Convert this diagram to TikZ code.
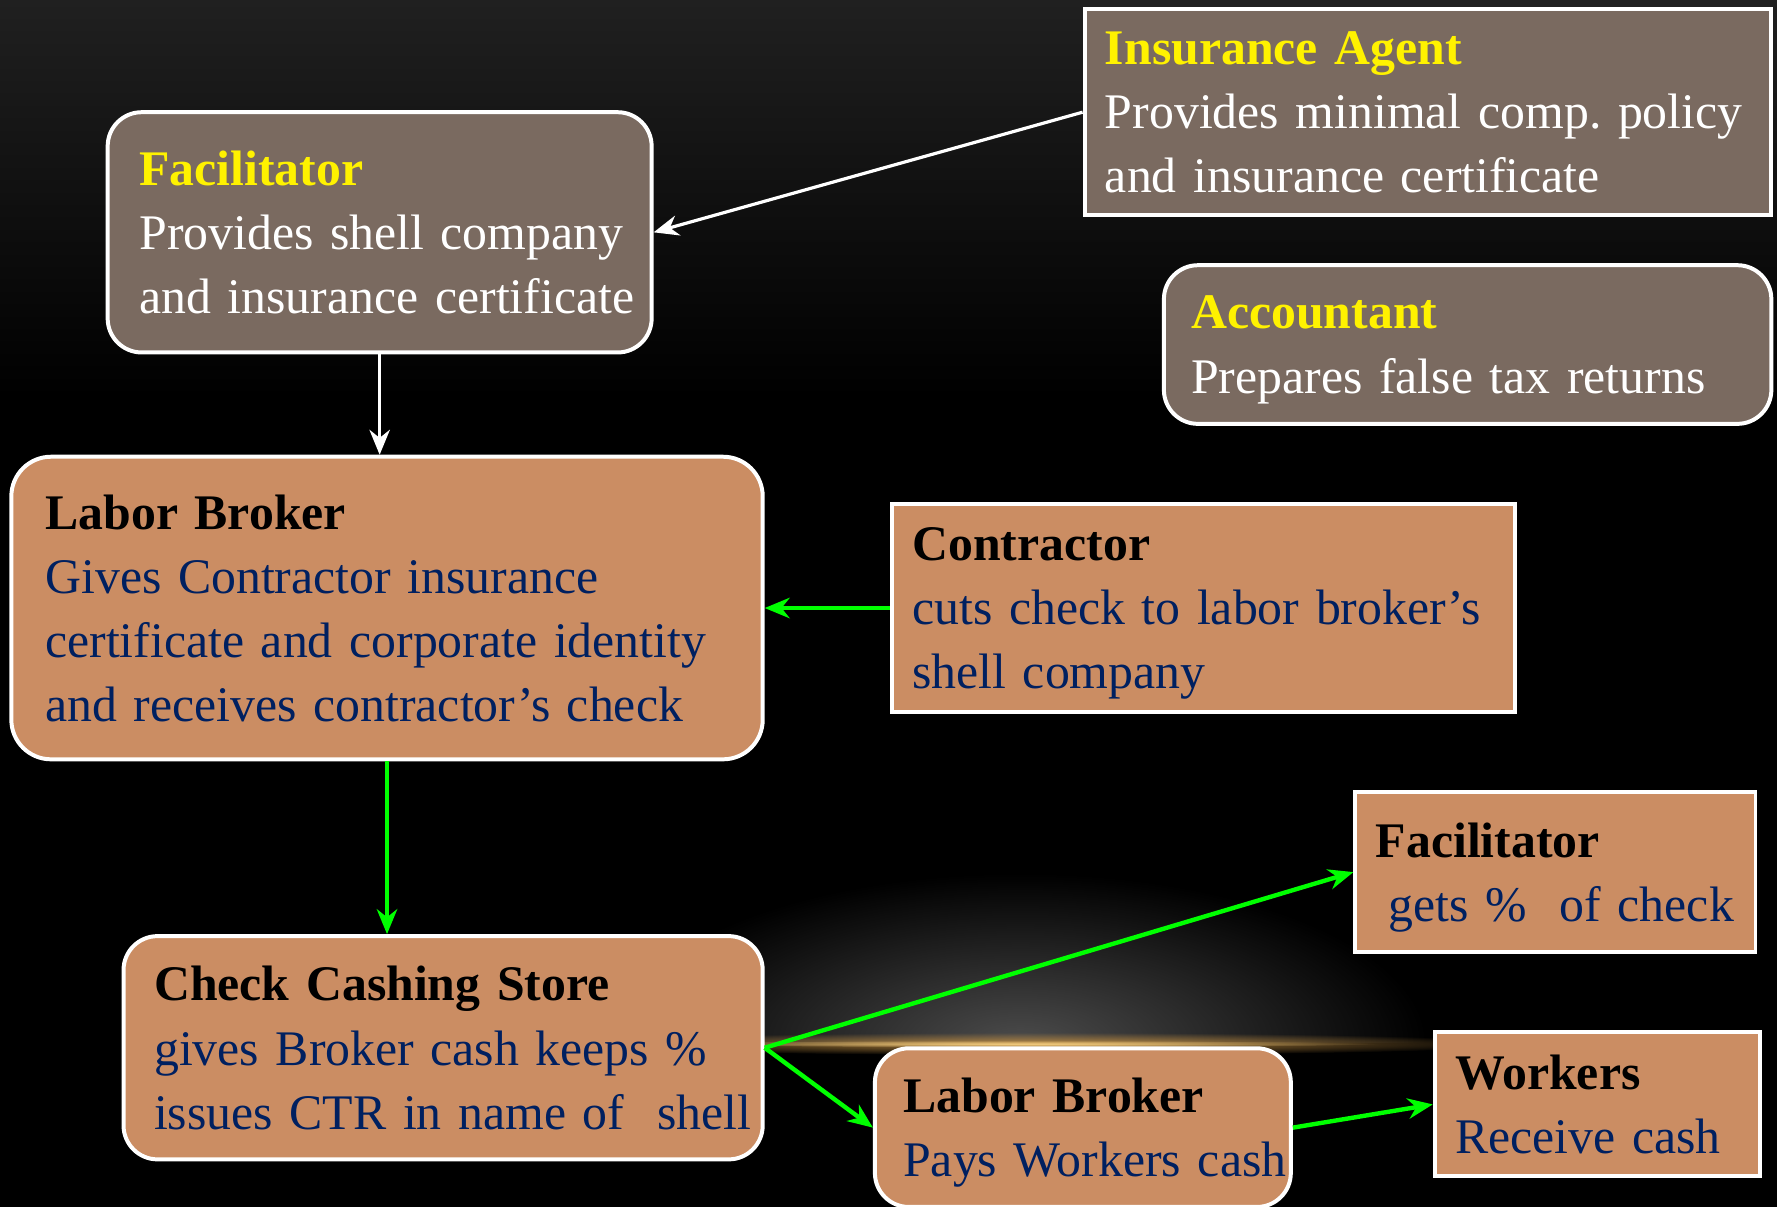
\documentclass[tikz,border=0pt]{standalone}
\usepackage{fontspec}
\setmainfont{Liberation Serif}
\usetikzlibrary{arrows.meta}
\usetikzlibrary{fadings}
\frenchspacing
\hyphenpenalty=10000
\exhyphenpenalty=10000

\definecolor{boxgray}{HTML}{7A6A60}
\definecolor{boxtan}{HTML}{CB8D63}
\definecolor{navy}{HTML}{002060}
\definecolor{bgtop}{HTML}{202020}
\definecolor{glowgray}{HTML}{4C4C4C}
\definecolor{glowgold}{HTML}{B88840}
\definecolor{coregold}{HTML}{F2CC80}

\tikzfading[name=glowfade, inner color=transparent!0, outer color=transparent!100]

\tikzset{
  card/.style={draw=white, line width=1pt, align=left, inner ysep=0pt,
    font=\fontsize{12.5}{16.1}\selectfont},
  graycard/.style={card, fill=boxgray, text=white},
  tancard/.style={card, fill=boxtan, text=navy},
  whitearrow/.style={white, line width=0.8pt, -{Stealth[length=0.22cm,width=0.18cm]}},
  greenarrow/.style={green, line width=1.1pt, -{Stealth[length=0.22cm,width=0.18cm]}},
}
\newcommand{\gtitle}[1]{\textcolor{yellow}{\textbf{#1}}}
\newcommand{\ttitle}[1]{\textcolor{black}{\textbf{#1}}}
\newcommand{\nodepth}[1]{\raisebox{0pt}[\height][0pt]{#1}}

\begin{document}
\begin{tikzpicture}
\useasboundingbox (0,0) rectangle (15.68,-10.65);
\shade[top color=bgtop, bottom color=black] (0,0) rectangle (15.68,-3.5);
\fill[black] (0,-3.5) rectangle (15.68,-10.65);

% glow behind the lower boxes
\begin{scope}
\clip (0,-7) rectangle (15.68,-9.2);
\fill[glowgray, path fading=glowfade] (9.0,-9.2) ellipse (3.6cm and 1.5cm);
\end{scope}
\fill[glowgold, path fading=glowfade] (9.2,-9.21) ellipse (4.2cm and 0.1cm);
\fill[coregold, path fading=glowfade] (9.0,-9.21) ellipse (3.2cm and 0.03cm);

\node[graycard, text width=5.70cm, inner xsep=0.18cm, minimum height=1.82cm] (ia) at (12.60,-0.99)
  {\gtitle{Insurance Agent}\\ Provides minimal comp. policy\\ \nodepth{and insurance certificate}};
\node[graycard, rounded corners=0.3cm, text width=4.24cm, inner xsep=0.28cm, minimum height=2.12cm] (facil) at (3.35,-2.05)
  {\gtitle{Facilitator}\\ Provides~shell~company\\ \nodepth{and insurance certificate}};
\node[graycard, rounded corners=0.3cm, text width=4.88cm, inner xsep=0.24cm, minimum height=1.40cm] (acct) at (12.95,-3.04)
  {\gtitle{Accountant}\\ \nodepth{Prepares false tax returns}};

\node[tancard, rounded corners=0.35cm, text width=6.03cm, inner xsep=0.30cm, minimum height=2.67cm] (lb) at (3.415,-5.365)
  {\ttitle{Labor Broker}\\ Gives Contractor insurance\\ certificate and corporate identity\\ \nodepth{and receives contractor’s check}};
\node[tancard, text width=5.14cm, inner xsep=0.18cm, minimum height=1.83cm] (contr) at (10.62,-5.365)
  {\ttitle{Contractor}\\ cuts check to labor broker’s\\ \nodepth{shell company}};
\node[tancard, text width=3.17cm, inner xsep=0.18cm, minimum height=1.41cm] (facr) at (13.725,-7.695)
  {\ttitle{Facilitator}\\ \nodepth{\hspace*{0.25em}gets \%~~of check}};
\node[tancard, rounded corners=0.3cm, text width=5.10cm, inner xsep=0.27cm, minimum height=1.97cm] (check) at (3.91,-9.245)
  {\ttitle{Check Cashing Store}\\ gives Broker cash keeps \%\\ \nodepth{issues CTR in name of~~shell}};
\node[tancard, rounded corners=0.3cm, text width=3.17cm, inner xsep=0.25cm, minimum height=1.40cm] (lbtwo) at (9.555,-9.95)
  {\ttitle{Labor Broker}\\ \nodepth{Pays Workers cash}};
\node[tancard, text width=2.51cm, inner xsep=0.18cm, minimum height=1.27cm] (work) at (14.095,-9.745)
  {\ttitle{Workers}\\ \nodepth{Receive cash}};

\draw[whitearrow] (ia.west) -- (facil.east);
\draw[whitearrow] (facil.south) -- (facil.south |- lb.north);

\draw[greenarrow] (contr.west) -- (lb.east);
\draw[greenarrow] (lb.south) -- (lb.south |- check.north);
\draw[greenarrow] (check.east) -- (facr.west);
\draw[greenarrow] (check.east) -- (lbtwo.west);
\draw[greenarrow] (lbtwo.east) -- (work.west);

\end{tikzpicture}
\end{document}
